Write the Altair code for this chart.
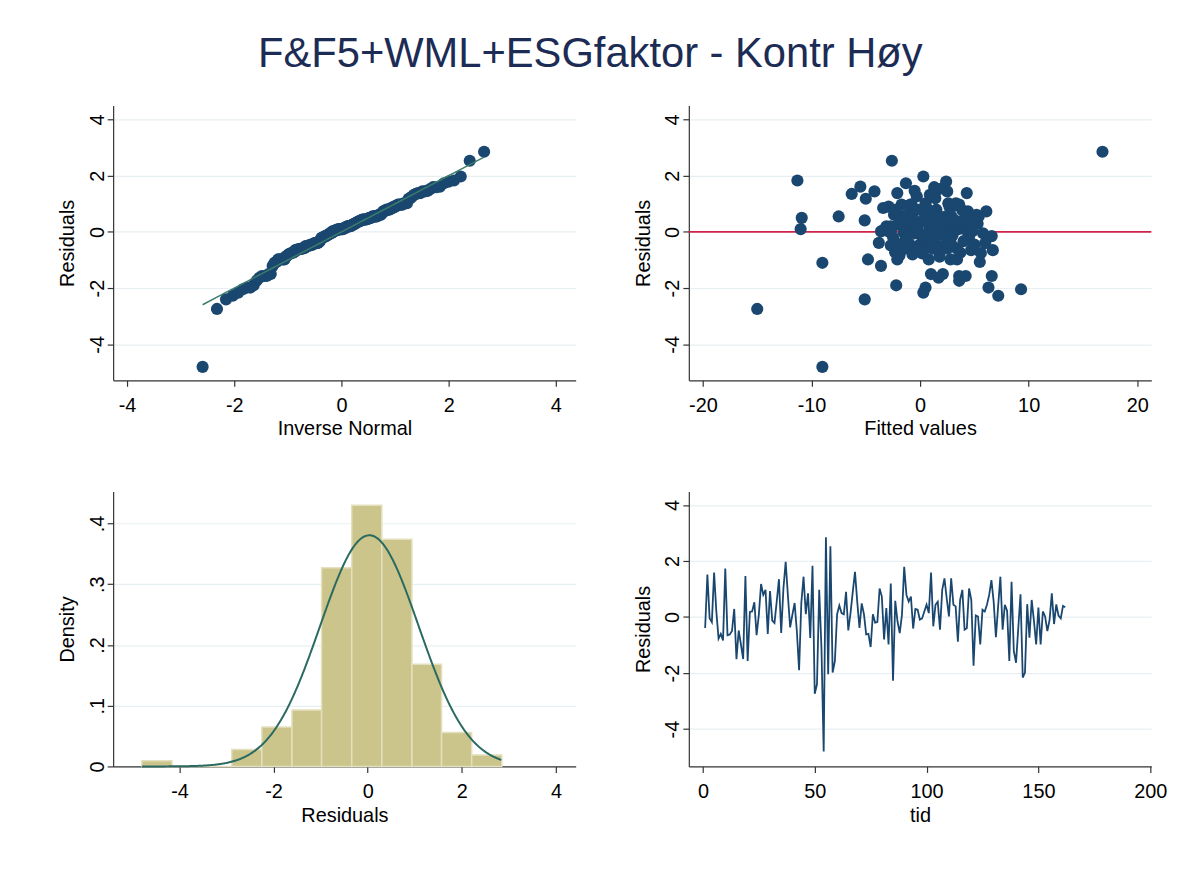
import altair as alt
import numpy as np
import pandas as pd

# Residuals by period (tid = 1..162)
residuals = [
    -0.39, 1.52, -0.04, -0.18, 1.59, 0.20, -0.77, -0.60, -0.84, 1.73,
    -0.65, -0.62, -0.50, 0.29, -1.50, -0.48, -0.98, -1.50, 1.46, -1.57,
    0.18, 0.20, 0.53, -0.65, 0.08, 1.18, 0.79, 0.97, -0.60, 0.93,
    -0.13, -0.21, 0.55, 1.35, -0.57, 1.02, 1.97, 0.77, -0.37, 0.08,
    0.50, -0.50, -1.90, 0.50, 1.44, 0.10, 0.85, -0.75, 1.83, -2.74,
    -2.40, 0.97, -1.10, -4.80, 2.85, -2.04, 2.53, -1.98, -1.57, 0.10,
    0.41, 0.14, 0.10, 0.90, -0.48, 0.14, 0.90, 1.61, 0.55, -0.39,
    0.49, 0.10, -0.62, -0.60, -1.07, 0.10, -0.20, -0.18, 1.02, 0.73,
    -0.80, 0.32, -0.98, 1.20, -2.27, 0.58, -0.15, -0.57, 0.08, 1.79,
    0.79, 0.55, 0.73, -0.41, 0.29, 0.26, -0.09, -0.05, 0.20, 0.44,
    0.14, 1.59, -0.33, 0.44, 0.55, -0.45, 0.97, 1.38, 0.67, 0.02,
    1.38, 0.44, 0.38, -0.88, 0.61, 0.97, -0.45, -0.40, 1.02, 0.61,
    -1.74, 0.06, 0.02, -0.98, 0.26, 0.20, 0.44, 0.79, 1.32, 0.55,
    -0.72, 0.38, 1.44, -0.45, 0.44, 0.23, -1.57, 1.26, -1.21, -1.63,
    -0.40, 0.81, -2.16, -1.98, 0.46, -0.74, 0.61, -0.13, -0.98, 0.34,
    -0.98, 0.20, 0.02, -0.50, -0.10, 0.85, -0.25, 0.45, 0.05, -0.05,
    0.40, 0.35,
]

# Fitted values for the same periods
fitted = [
    0.8, 1.7, -1.5, 2.9, 1.3, -0.6, 0.2, 3.4, -1.9, -1.3,
    4.7, -0.9, 2.2, 5.3, 2.1, -2.7, 2.8, 1.0, -0.5, 3.6,
    1.9, -3.1, 0.6, 6.7, -1.1, -5.0, 1.5, -0.8, 1.2, 3.2,
    0.1, 4.5, -7.5, -6.3, -0.3, 2.6, 0.3, 3.9, -2.3, 2.3,
    -10.9, 3.0, -2.2, 5.0, -4.2, 1.1, -3.4, 5.6, -11.3, -15.0,
    -5.1, -1.7, -9.0, -9.0, 16.8, 9.3, -2.6, 0.5, 6.6, -11.0,
    -5.1, 0.9, 3.5, -2.9, 1.6, -1.4, 2.7, -5.5, 5.4, -3.8,
    0.4, 4.1, -1.6, 2.5, 5.5, -0.2, 1.4, -2.5, 3.3, 6.1,
    -0.7, 2.0, -4.8, 1.4, 7.2, -1.9, 6.6, 0.6, -3.3, 2.4,
    -0.3, 1.8, 4.4, -1.0, 2.9, -2.0, 0.7, 5.8, -0.4, 3.1,
    -2.6, 2.2, 4.0, -1.2, 2.4, 0.0, -0.9, 4.3, 1.0, -3.6,
    -2.1, 4.9, 0.2, 1.8, -2.4, 3.6, -1.8, 2.6, 0.5, 5.2,
    3.6, 1.3, -2.9, 0.8, 3.8, -1.5, 1.2, -2.2, 0.9, 2.9,
    -2.3, 4.6, 2.5, 5.0, -0.6, 2.1, 4.2, -0.3, -3.6, 1.7,
    6.0, 0.3, 0.3, 6.3, -0.8, 3.7, -1.2, 2.2, -2.1, 1.6,
    3.4, -2.7, 4.8, -0.1, 3.0, 0.6, -1.3, 2.6, 1.1, -0.5,
    3.9, -1.9,
]

# Histogram of residuals: bin edges and densities
hist_edges = [-4.80, -4.16, -3.53, -2.89, -2.25, -1.61, -0.98,
              -0.34, 0.30, 0.94, 1.57, 2.21, 2.85]
hist_density = [0.0093, 0.0, 0.0, 0.028, 0.065, 0.093, 0.327,
                0.430, 0.374, 0.168, 0.056, 0.019]

x_ticks_qq = [-4, -2, 0, 2, 4]
x_ticks_fit = [-20, -10, 0, 10, 20]
x_ticks_tid = [0, 50, 100, 150, 200]
y_ticks_res = [-4, -2, 0, 2, 4]
y_ticks_dens = [0, 0.1, 0.2, 0.3, 0.4]

TITLE = "F&F5+WML+ESGfaktor - Kontr Høy"

NAVY = "#1A476F"
GREEN = "#3B7C6A"
TEAL = "#2A6A60"
RED = "#D0234A"
KHAKI = "#CBC48B"
FONT = "Liberation Sans"

df = pd.DataFrame({
    "tid": np.arange(1, len(residuals) + 1),
    "residual": residuals,
    "fitted": fitted,
})
hist_df = pd.DataFrame({
    "lo": hist_edges[:-1],
    "hi": hist_edges[1:],
    "density": hist_density,
})
mu = float(np.mean(residuals))
sd = float(np.std(residuals, ddof=1))

W, H = 466, 277

# plain hyphen-minus labels, as in Stata output
INT_LABEL = "'' + datum.value"
DENS_LABEL = "datum.value == 0 ? '0' : replace(format(datum.value, '.1f'), '0.', '.')"


def xaxis(title, values):
    return alt.Axis(title=title, values=values, grid=False, labelExpr=INT_LABEL)


def yaxis(title, values, label_expr=INT_LABEL):
    return alt.Axis(title=title, values=values, grid=True, labelAngle=270,
                    labelAlign="center", labelBaseline="alphabetic", labelExpr=label_expr)


res_scale = alt.Scale(domain=[-5.28, 4.5], nice=False, zero=False)

# Normal probability plot
qq_base = (
    alt.Chart(df)
    .transform_joinaggregate(mu="mean(residual)", sd="stdev(residual)", n="count()")
    .transform_window(rank="row_number()", sort=[alt.SortField("residual", order="ascending")])
    .transform_calculate(qn="quantileNormal(datum.rank / (datum.n + 1), datum.mu, datum.sd)")
)
qx = alt.X("qn:Q", scale=alt.Scale(domain=[-4.26, 4.37], nice=False, zero=False),
           axis=xaxis("Inverse Normal", x_ticks_qq))
qq_points = qq_base.mark_circle(size=150, color=NAVY, opacity=1).encode(
    x=qx, y=alt.Y("residual:Q", scale=res_scale, axis=yaxis("Residuals", y_ticks_res))
)
qq_line = qq_base.mark_line(color=GREEN, strokeWidth=1.5).encode(x="qn:Q", y="qn:Q")
qq = alt.layer(qq_points, qq_line).properties(width=W, height=H)

# Residuals vs fitted values
fx = alt.X("fitted:Q", scale=alt.Scale(domain=[-21.3, 21.3], nice=False, zero=False),
           axis=xaxis("Fitted values", x_ticks_fit))
rvf_zero = alt.Chart(pd.DataFrame({"z": [0]})).mark_rule(color=RED, strokeWidth=1.6).encode(
    y=alt.Y("z:Q", scale=res_scale)
)
rvf_points = alt.Chart(df).mark_circle(size=150, color=NAVY, opacity=1).encode(
    x=fx, y=alt.Y("residual:Q", scale=res_scale, axis=yaxis("Residuals", y_ticks_res))
)
rvf = alt.layer(rvf_zero, rvf_points).properties(width=W, height=H)

# Histogram with normal density
hx_scale = alt.Scale(domain=[-5.41, 4.42], nice=False, zero=False)
hy_scale = alt.Scale(domain=[0, 0.4525], nice=False)
bars = alt.Chart(hist_df).mark_rect(color=KHAKI, stroke="#E4E0BE", strokeWidth=1.5).encode(
    x=alt.X("lo:Q", scale=hx_scale, axis=xaxis("Residuals", x_ticks_qq)),
    x2="hi:Q",
    y=alt.Y("density:Q", scale=hy_scale, axis=yaxis("Density", y_ticks_dens, DENS_LABEL)),
    y2=alt.datum(0),
)
curve = (
    alt.Chart(alt.sequence(min(residuals), max(residuals) + 0.01, 0.02, as_="x"))
    .transform_calculate(d=f"densityNormal(datum.x, {mu}, {sd})")
    .mark_line(color=TEAL, strokeWidth=2)
    .encode(x=alt.X("x:Q", scale=hx_scale), y=alt.Y("d:Q", scale=hy_scale))
)
hist = alt.layer(bars, curve).properties(width=W, height=H)

# Residuals over time
ts = alt.Chart(df).mark_line(color=NAVY, strokeWidth=1.8).encode(
    x=alt.X("tid:Q", scale=alt.Scale(domain=[-6.3, 200.5], nice=False, zero=False),
            axis=xaxis("tid", x_ticks_tid)),
    y=alt.Y("residual:Q", scale=alt.Scale(domain=[-5.33, 4.48], nice=False, zero=False),
            axis=yaxis("Residuals", y_ticks_res)),
).properties(width=W, height=H)

chart = (
    alt.concat(qq, rvf, hist, ts, columns=2, spacing={"row": 112, "column": 114},
               bounds="flush")
    .properties(
        title=alt.TitleParams(TITLE, fontSize=42, font=FONT, fontWeight="normal",
                              color="#1C2C54", anchor="middle", offset=30, dx=-22),
        padding={"left": 58, "top": 30, "right": 30, "bottom": 20},
        background="white",
    )
    .configure_view(stroke=None)
    .configure_axis(
        labelFont=FONT, titleFont=FONT, labelFontSize=20, titleFontSize=20,
        labelColor="#000000", titleColor="#000000", titleFontWeight="normal",
        domainColor="#333333", domainWidth=1.2, tickColor="#333333", tickSize=6,
        tickWidth=1.2, gridColor="#E8EFF2", gridWidth=1.2, labelFlush=False,
    )
    .configure_axisX(labelPadding=9, titlePadding=4)
    .configure_axisY(labelPadding=4, titlePadding=10)
)

chart.save("out.html", embed_options={"renderer": "svg", "actions": False})
